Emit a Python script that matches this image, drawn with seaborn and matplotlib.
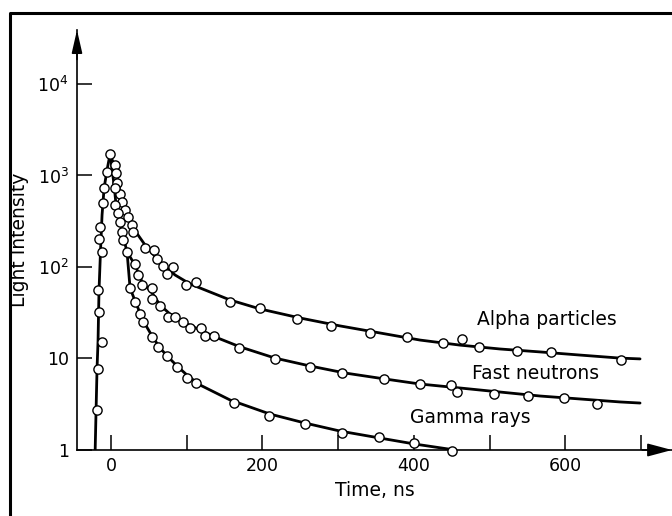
import matplotlib
matplotlib.use("Agg")
import matplotlib.pyplot as plt
import pandas as pd
import seaborn as sns
from matplotlib.lines import Line2D

# ---------------- data ----------------
# rising edge (common to all three particles)
rise_line_t = [-21, -19.8, -18.5, -17.2, -16.5, -15.9, -13.9, -11.9, -9.2, -5.3, -1.3]
rise_line_I = [1.0, 2.74, 7.9, 15.5, 32, 56, 153, 370, 730, 1150, 1718]
rise_pts_t = [-18.1, -16.8, -12.3, -15.5, -17.6, -12.3, -15.9, -14.5, -10.6, -9.2, -5.7, -1.3]
rise_pts_I = [2.74, 7.68, 15.1, 32.2, 56.1, 146, 202, 274, 500, 730, 1092, 1718]

# Alpha particles
alpha_line_t = [-1.3, 5.3, 11.9, 18.5, 29.1, 44.9, 64.7, 84.5, 104.4, 130.8, 157.2, 196.8,
                249.7, 302.5, 355.4, 408.2, 461.0, 513.9, 566.7, 619.6, 672.4, 698.8]
alpha_line_I = [1718, 1208, 660, 441, 267, 174, 113, 81.8, 65.2, 53.3, 43.6, 34.8,
                27.7, 22.7, 19.0, 15.9, 14.0, 12.7, 11.8, 10.9, 10.1, 9.9]
alpha_pts_t = [5.3, 6.6, 8.3, 11.9, 14.1, 18.5, 22.9, 27.3, 28.7, 44.9, 56.8, 60.4, 69.1,
               81.5, 74.0, 99.1, 112.3, 157.2, 196.8, 246.1, 290.6, 342.1, 390.6, 439.0,
               463.3, 486.5, 536.7, 581.2, 673.7]
alpha_pts_I = [1300, 1060, 834, 623, 517, 420, 349, 288, 243, 160, 153, 121, 103,
               99, 83.8, 63.6, 69.1, 41.4, 35.2, 26.8, 22.4, 19.0, 17.0, 14.6,
               16.2, 13.5, 12.2, 11.9, 9.55]

# Fast neutrons
neut_line_t = [-1.3, 4.0, 6.6, 11.9, 17.2, 21.1, 31.7, 41.0, 54.2, 64.7, 77.9, 97.8, 117.6,
               137.4, 170.4, 216.6, 262.9, 309.1, 361.9, 408.2, 461.0, 513.9, 566.7, 619.6,
               672.4, 698.8]
neut_line_I = [1718, 787, 476, 310, 197, 146, 105, 68.6, 52.0, 38.4, 30.6, 24.4, 20.5,
               17.2, 13.4, 10.1, 8.28, 6.94, 5.97, 5.26, 4.76, 4.30, 3.89, 3.61,
               3.35, 3.26]
neut_pts_t = [5.3, 5.3, 9.6, 11.9, 14.1, 16.2, 20.7, 31.7, 36.1, 40.6, 54.2, 53.8, 64.7,
              75.7, 84.5, 95.5, 104.4, 118.5, 124.2, 136.1, 169.5, 216.6, 262.9, 305.5,
              360.6, 408.2, 448.7, 456.7, 505.9, 551.3, 597.8, 642.0]
neut_pts_I = [725, 476, 386, 313, 243, 197, 147, 108, 81.8, 63.6, 58.5, 44.7, 37.2,
              28.6, 28.6, 25.2, 21.4, 21.4, 17.4, 17.6, 12.9, 9.93, 8.08, 6.94,
              6.02, 5.26, 5.07, 4.27, 4.09, 3.89, 3.73, 3.18]

# Gamma rays
gamma_line_t = [21.1, 23.1, 25.1, 31.7, 38.3, 44.9, 54.2, 64.7, 75.3, 88.5, 101.7, 117.6,
                157.2, 210.0, 256.3, 302.5, 355.4, 401.6, 454.4]
gamma_line_I = [146, 92.7, 58.9, 42.5, 31.4, 23.8, 17.6, 13.0, 10.4, 8.08, 6.44, 5.13,
                3.52, 2.47, 1.97, 1.61, 1.35, 1.16, 1.0]
gamma_pts_t = [25.1, 31.7, 38.3, 42.7, 53.8, 62.5, 73.6, 86.8, 99.7, 112.3, 162.5, 209.1,
               256.3, 305.5, 354.0, 400.5, 450.5]
gamma_pts_I = [58.5, 41.8, 30.6, 25.2, 17.3, 13.4, 10.6, 8.13, 6.08, 5.36, 3.29, 2.35,
               1.92, 1.55, 1.37, 1.18, 0.975]

series_names = ["Alpha particles", "Fast neutrons", "Gamma rays"]
label_t = [576, 561, 474]
label_I = [26.4, 6.86, 2.24]

x_ticks = [0, 100, 200, 300, 400, 500, 600, 700]
x_ticklabels = ["0", "", "200", "", "400", "", "600", ""]
y_ticks = [1, 10, 100, 1000, 10000]
y_ticklabels = ["1", "10", r"$10^2$", r"$10^3$", r"$10^4$"]

# ---------------- plotting ----------------
sns.set_style("white")
plt.rcParams["font.family"] = ["DejaVu Sans"]
plt.rcParams["mathtext.fontset"] = "dejavusans"
plt.rcParams["text.color"] = "black"
plt.rcParams["axes.labelcolor"] = "black"
plt.rcParams["xtick.color"] = "black"
plt.rcParams["ytick.color"] = "black"

fig = plt.figure(figsize=(6.72, 5.16), dpi=100)
ax = fig.add_axes([77 / 672, 66 / 516, 595 / 672, 420 / 516])
ax.set_yscale("log")

line_sets = [(rise_line_t, rise_line_I), (alpha_line_t, alpha_line_I),
             (neut_line_t, neut_line_I), (gamma_line_t, gamma_line_I)]
for t, I in line_sets:
    df = pd.DataFrame({"t": t, "I": I})
    sns.lineplot(data=df, x="t", y="I", sort=False, estimator=None, color="black",
                 lw=2.0, ax=ax, zorder=2)

pt_sets = [(rise_pts_t, rise_pts_I), (alpha_pts_t, alpha_pts_I),
           (neut_pts_t, neut_pts_I), (gamma_pts_t, gamma_pts_I)]
for t, I in pt_sets:
    df = pd.DataFrame({"t": t, "I": I})
    sns.scatterplot(data=df, x="t", y="I", marker="o", s=44, facecolor="white",
                    edgecolor="black", linewidth=1.0, ax=ax, zorder=3, clip_on=False)

for name, lt, lI in zip(series_names, label_t, label_I):
    ax.text(lt, lI, name, ha="center", va="center", fontsize=13.5, color="black")

ax.set_xlim(-45, 741)
ax.set_ylim(1, 10 ** 4.59)
ax.set_xticks(x_ticks)
ax.set_xticklabels(x_ticklabels)
ax.set_yticks(y_ticks)
ax.set_yticklabels(y_ticklabels)
ax.minorticks_off()
ax.tick_params(axis="both", which="major", direction="in", length=11, width=1.1,
               color="black", labelcolor="black", labelsize=12.5, pad=5,
               bottom=True, left=True, top=False, right=False)
ax.tick_params(axis="y", pad=6)

for s in ["top", "right"]:
    ax.spines[s].set_visible(False)
for s in ["left", "bottom"]:
    ax.spines[s].set_color("black")
    ax.spines[s].set_linewidth(1.2)

ax.set_xlabel("Time, ns", fontsize=13.5, labelpad=4, color="black")
ax.set_ylabel("Light Intensity", fontsize=13.5, labelpad=6, color="black")

# axis arrowheads
ax.annotate("", xy=(0, 1), xycoords="axes fraction", xytext=(0, 0.93),
            arrowprops=dict(arrowstyle="-|>,head_length=0.7,head_width=0.16",
                            mutation_scale=20, color="black", lw=1.2,
                            shrinkA=0, shrinkB=0))
ax.annotate("", xy=(1, 0), xycoords="axes fraction", xytext=(0.95, 0),
            arrowprops=dict(arrowstyle="-|>,head_length=0.75,head_width=0.2",
                            mutation_scale=20, color="black", lw=1.2,
                            shrinkA=0, shrinkB=0))

# outer frame of the figure
fig.add_artist(Line2D([10 / 672, 10 / 672, 1.01], [-0.01, 1 - 13 / 516, 1 - 13 / 516],
                      transform=fig.transFigure, color="black", lw=2.2))

fig.savefig("out.png", dpi=100)
